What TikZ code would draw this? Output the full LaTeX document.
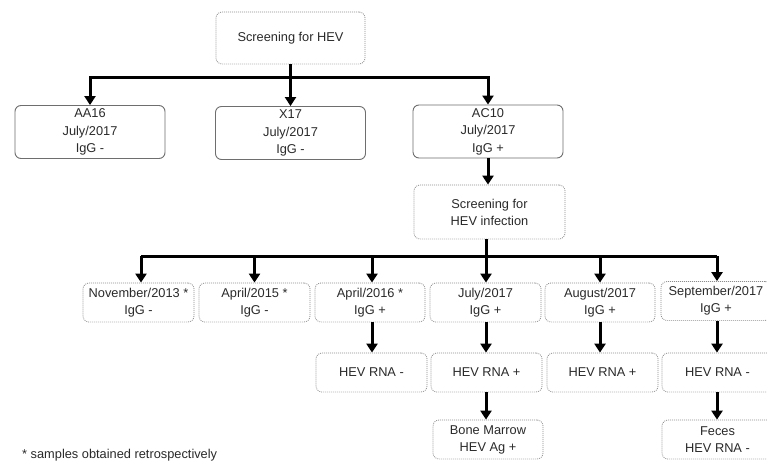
\documentclass[tikz,border=0pt]{standalone}
\usepackage{fontspec}
\setmainfont{Liberation Sans}
\usetikzlibrary{arrows.meta,calc}
\definecolor{txt}{HTML}{2A2A2A}
\definecolor{dotc}{HTML}{8C8C8C}
\definecolor{solc}{HTML}{6E6E6E}
\begin{document}
\begin{tikzpicture}[x=1pt,y=-1pt,
  base/.style={rectangle,rounded corners=6pt,align=center,text=txt,inner sep=0pt,
    font=\fontsize{12.8}{17}\selectfont},
  dotbox/.style={base,draw=dotc,line width=0.8pt,dash pattern=on 0.9pt off 1.1pt},
  solbox/.style={base,draw=solc,line width=0.9pt,font=\fontsize{12.8}{17.5}\selectfont},
  conn/.style={line width=3pt,line join=miter},
  arr/.style={conn,-{Triangle[width=11pt,length=9pt]}}
]
\useasboundingbox (0,0) rectangle (767,460);
\clip (0,0) rectangle (767,460);
\fill[white] (0,0) rectangle (767,460);

% level 1
\node[dotbox,minimum width=149pt,minimum height=52pt] (s1) at (290.5,38) {Screening for HEV};
% level 2
\node[solbox,minimum width=150pt,minimum height=53pt] (aa16) at (90,132) {AA16\\July/2017\\IgG -};
\node[solbox,minimum width=150pt,minimum height=53pt] (x17) at (290.5,133) {X17\\July/2017\\IgG -};
\node[solbox,minimum width=150pt,minimum height=53pt] (ac10) at (488,131.5) {AC10\\July/2017\\IgG +};
\coordinate (j1) at (290.5,77);
\draw[conn] (s1.south) -- (j1);
\draw[arr] (j1) -| (aa16.north);
\draw[arr] (j1) -- (x17.north);
\draw[arr] (j1) -| (ac10.north);

% screening for infection
\node[dotbox,minimum width=151pt,minimum height=54pt] (s2) at (489.5,212) {Screening for\\HEV infection};
\draw[arr] (ac10.south) -- (ac10.south |- s2.north);

% level 3
\node[dotbox,minimum width=111pt,minimum height=39pt] (n13) at (138.5,302.5) {November/2013 *\\IgG -};
\node[dotbox,minimum width=111pt,minimum height=39pt] (a15) at (254.5,302.5) {April/2015 *\\IgG -};
\node[dotbox,minimum width=110pt,minimum height=39pt] (a16) at (370,302.5) {April/2016 *\\IgG +};
\node[dotbox,minimum width=111pt,minimum height=39pt] (j17) at (485.5,302.5) {July/2017\\IgG +};
\node[dotbox,minimum width=110pt,minimum height=39pt] (au17) at (600,302.5) {August/2017\\IgG +};
\node[dotbox,minimum width=110pt,minimum height=39pt] (se17) at (716,301) {September/2017\\IgG +};
\coordinate (j2) at (486,256);
\coordinate (c1) at (141,256);
\coordinate (c3) at (372,256);
\coordinate (c6) at (717,256);
\draw[conn] (s2.south -| j2) -- (j2);
\draw[conn] (c1) -- (c6);
\draw[arr] (c1) -- (c1 |- n13.north);
\draw[arr] (j2 -| a15.north) -- (a15.north);
\draw[arr] (c3) -- (c3 |- a16.north);
\draw[arr] (j2) -- (j2 |- j17.north);
\draw[arr] (j2 -| au17.north) -- (au17.north);
\draw[arr] (c6) -- (c6 |- se17.north);

% level 4
\node[dotbox,minimum width=111pt,minimum height=39pt] (r1) at (371.5,372.5) {HEV RNA -};
\node[dotbox,minimum width=111pt,minimum height=39pt] (r2) at (486.5,372.5) {HEV RNA +};
\node[dotbox,minimum width=111pt,minimum height=39pt] (r3) at (602.5,372.5) {HEV RNA +};
\node[dotbox,minimum width=111pt,minimum height=39pt] (r4) at (717.5,372.5) {HEV RNA -};
\draw[arr] (c3 |- a16.south) -- (c3 |- r1.north);
\draw[arr] (j2 |- j17.south) -- (j2 |- r2.north);
\draw[arr] (au17.south) -- (au17.south |- r3.north);
\draw[arr] (c6 |- se17.south) -- (c6 |- r4.north);

% level 5
\node[dotbox,minimum width=110pt,minimum height=39pt] (bm) at (488,439.5) {Bone Marrow\\HEV Ag +};
\node[dotbox,minimum width=111pt,minimum height=39pt] (fe) at (717.5,439.5) {Feces\\HEV RNA -};
\draw[arr] (j2 |- r2.south) -- (j2 |- bm.north);
\draw[arr] (c6 |- r4.south) -- (c6 |- fe.north);

% footnote
\node[anchor=base west,text=txt,inner sep=0pt,font=\fontsize{12.8}{15}\selectfont] (fn) at (22,458) {* samples obtained retrospectively};
\end{tikzpicture}
\end{document}
